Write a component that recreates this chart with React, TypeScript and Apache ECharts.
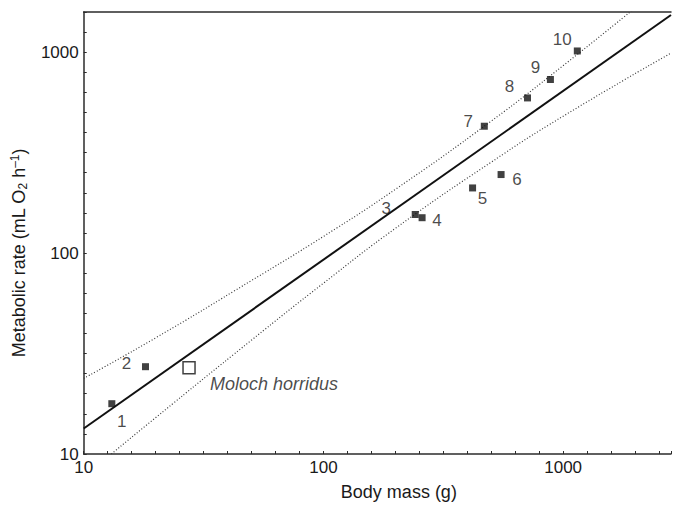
import React, { useEffect, useRef } from "react";
import * as echarts from "echarts";

// Numbered species: body mass (g) and metabolic rate (mL O2 h-1)
const pointLabels = ["1", "2", "3", "4", "5", "6", "7", "8", "9", "10"];
const massG = [13.1, 18.1, 241.5, 258, 419, 551, 469, 710, 885, 1146];
const rateMl = [17.8, 27.2, 155.6, 150, 211, 246, 428, 592, 731, 1014];

// Moloch horridus
const molochName = "Moloch horridus";
const molochMass = [27.5];
const molochRate = [26.9];

// Regression line (read at the axis ends)
const fitMass = [10, 2818];
const fitRate = [13.4, 1531];

// 95% bands (dotted)
const upperMass = [10, 20, 50, 100, 200, 500, 1000, 2000];
const upperRate = [23.8, 37.9, 72.9, 121, 208, 453, 857, 1663];
const lowerMass = [10, 20, 50, 100, 200, 500, 1000, 2818];
const lowerRate = [7.7, 15.2, 36.8, 70.8, 133, 283, 480, 990];

// Axis extents
const xMinVal = 10;
const xMaxVal = 2818;
const yMinVal = 10;
const yMaxVal = 1585;

// label placement (positions kept apart from the data)
const labelOffsets: number[][] = [
  [10, 18], [-19, -3], [-29, -6], [15, 3], [10, 11],
  [16, 5], [-16, -5], [-18, -11], [-15, -12], [-15, -11],
];

const lg = (v: number) => Math.log10(v);
const pairs = (xs: number[], ys: number[]) => xs.map((x, i) => [lg(x), lg(ys[i])]);

const FONT = "'Liberation Sans', Arial, Helvetica, sans-serif";
const TXT = "#1a1a1a";
const AX = "#2b2b2b";

const decadeLabel = (v: number) => {
  const r = Math.round(v);
  return Math.abs(v - r) < 1e-6 ? String(Math.pow(10, r)) : "";
};

export default function App() {
  const ref = useRef<HTMLDivElement>(null);
  useEffect(() => {
    if (!ref.current) return;
    const chart = echarts.init(ref.current, null, { renderer: "svg" });
    const xMin = Math.round(lg(xMinVal) * 100) / 100;
    const xMax = Math.round(lg(xMaxVal) * 100) / 100;
    const yMin = Math.round(lg(yMinVal) * 100) / 100;
    const yMax = Math.round(lg(yMaxVal) * 100) / 100;

    const baseAxis = {
      type: "value",
      interval: 0.1,
      axisLine: { show: true, onZero: false, lineStyle: { color: AX, width: 1.5 } },
      axisTick: { show: true, inside: true, length: 3, lineStyle: { color: AX, width: 1 } },
      splitLine: { show: false },
      axisLabel: {
        formatter: decadeLabel,
        fontFamily: FONT,
        fontSize: 17,
        color: TXT,
        margin: 5,
        showMinLabel: true,
        showMaxLabel: true,
      },
    };

    chart.setOption({
      animation: false,
      backgroundColor: "#ffffff",
      grid: { left: 78, right: 1, top: 12, bottom: 47, containLabel: false },
      xAxis: [
        {
          ...baseAxis,
          min: xMin,
          max: xMax,
          name: "Body mass (g)",
          nameLocation: "middle",
          nameGap: 29,
          nameTextStyle: { fontFamily: FONT, fontSize: 18, color: TXT, padding: [0, 0, 0, 43] },
        },
        {
          type: "value",
          position: "top",
          min: xMin,
          max: xMax,
          axisLine: { show: true, onZero: false, lineStyle: { color: AX, width: 1.5 } },
          axisTick: { show: false },
          axisLabel: { show: false },
          splitLine: { show: false },
        },
      ],
      yAxis: {
        ...baseAxis,
        min: yMin,
        max: yMax,
        name: "{a|Metabolic rate (mL O}{s|2}{a| h}{p|–1}{a|)}",
        nameLocation: "middle",
        nameRotate: 90,
        nameGap: 43,
        nameTextStyle: {
          fontFamily: FONT,
          fontSize: 18,
          color: TXT,
          padding: [0, 40, 0, 0],
          rich: {
            a: { fontFamily: FONT, fontSize: 18, color: TXT, lineHeight: 22, verticalAlign: "middle" },
            s: { fontFamily: FONT, fontSize: 12, color: TXT, lineHeight: 22, verticalAlign: "bottom", padding: [0, 0, 1, 0] },
            p: { fontFamily: FONT, fontSize: 12, color: TXT, lineHeight: 22, verticalAlign: "top", padding: [1, 0, 0, 0] },
          },
        },
      },
      series: [
        {
          type: "line",
          name: "upper",
          data: pairs(upperMass, upperRate),
          smooth: true,
          showSymbol: false,
          symbol: "none",
          clip: true,
          lineStyle: { color: "#3a3a3a", width: 1.2, type: [1, 2] },
          z: 2,
        },
        {
          type: "line",
          name: "lower",
          data: pairs(lowerMass, lowerRate),
          smooth: true,
          showSymbol: false,
          symbol: "none",
          clip: true,
          lineStyle: { color: "#3a3a3a", width: 1.2, type: [1, 2] },
          z: 2,
        },
        {
          type: "line",
          name: "fit",
          data: pairs(fitMass, fitRate),
          showSymbol: false,
          symbol: "none",
          clip: true,
          lineStyle: { color: "#111", width: 2 },
          z: 3,
        },
        {
          type: "scatter",
          name: "species",
          symbol: "rect",
          symbolSize: 7,
          itemStyle: { color: "#111" },
          z: 4,
          label: {
            show: true,
            position: "inside",
            formatter: (p: any) => p.name,
            fontFamily: FONT,
            fontSize: 17,
            color: TXT,
          },
          data: massG.map((m, i) => ({
            name: pointLabels[i],
            value: [lg(m), lg(rateMl[i])],
            label: { offset: labelOffsets[i] },
          })),
        },
        {
          type: "scatter",
          name: "moloch",
          symbol: "rect",
          symbolSize: 12,
          itemStyle: { color: "#fff", borderColor: "#111", borderWidth: 1.5 },
          z: 4,
          label: {
            show: true,
            position: "inside",
            align: "left",
            offset: [21, 16],
            formatter: () => molochName,
            fontFamily: FONT,
            fontSize: 18,
            fontStyle: "italic",
            color: TXT,
          },
          data: molochMass.map((m, i) => [lg(m), lg(molochRate[i])]),
        },
      ],
    });
    return () => chart.dispose();
  }, []);
  return (
    <div
      ref={ref}
      style={{ position: "absolute", left: 0, top: 0, width: 674, height: 506, background: "#fff" }}
    />
  );
}
